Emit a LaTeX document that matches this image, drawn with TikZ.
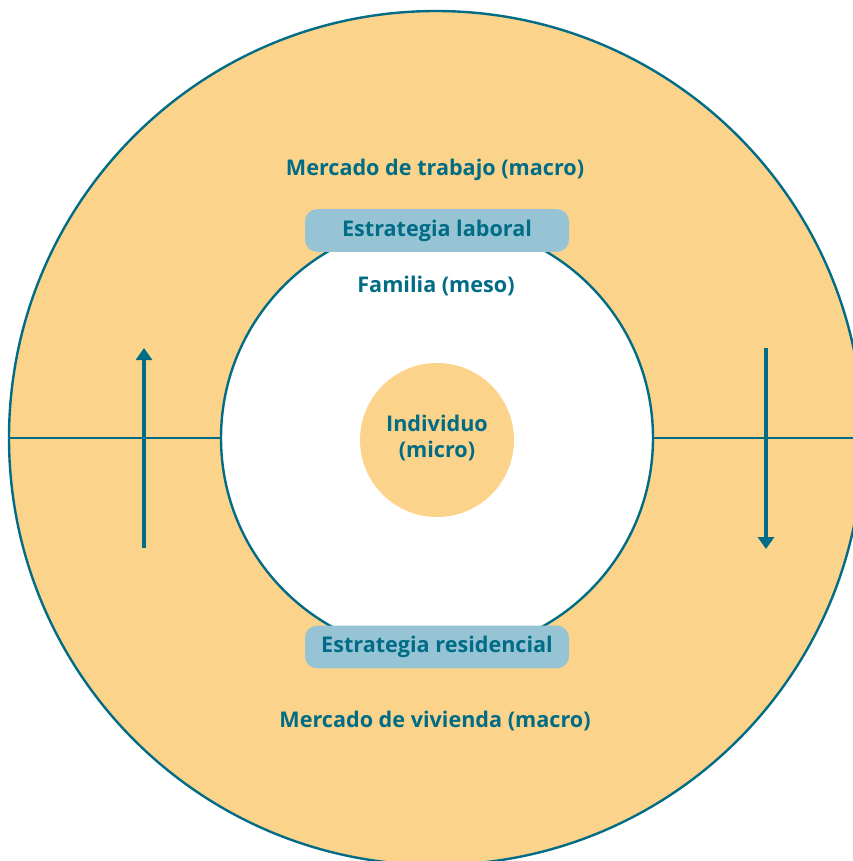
\documentclass[tikz,border=0pt]{standalone}
\usepackage{fontspec}
\setmainfont{Open Sans}
\usetikzlibrary{arrows.meta,positioning}
\definecolor{darkteal}{RGB}{0,108,133}
\definecolor{softorange}{RGB}{252,211,138}
\definecolor{softblue}{RGB}{150,196,213}

\begin{document}
\begin{tikzpicture}[x=0.75pt,y=-0.75pt,>={Triangle[width=12pt,length=9pt]}]
\tikzstyle{ring}=[circle,draw=darkteal,line width=1.8pt,inner sep=0pt]
\tikzstyle{caption}=[text=darkteal,font=\bfseries\fontsize{16.2}{20}\selectfont,align=center]
\tikzstyle{strategy}=[caption,fill=softblue,rounded corners=9pt,minimum width=198pt,minimum height=32pt]
\tikzstyle{flow}=[draw=darkteal,line width=3pt,->]
\useasboundingbox (0,0) rectangle (853,861);
\begin{scope}
\clip (0,0) rectangle (853,861);
\node[ring,fill=softorange,minimum size=640.5pt] (macro) at (436,438) {};
\node[ring,fill=white,minimum size=324pt] (meso) at (437,438) {};
\node[circle,fill=softorange,minimum size=115.5pt,inner sep=0pt] (micro) at (437,440) {};
\draw[darkteal,line width=1.7pt] (macro.west) -- (meso.west);
\draw[darkteal,line width=1.7pt] (meso.east) -- (macro.east);
\end{scope}
\node[caption] at (437,438) {Individuo\\(micro)};
\node[caption] (meso label) at (436,286) {Familia (meso)};
\node[caption] (work market) at (435,170) {Mercado de trabajo (macro)};
\node[caption] (housing market) at (435,721) {Mercado de vivienda (macro)};
\node[strategy] (work) at (437,230.5) {Estrategia laboral};
\node[strategy] (housing) at (437,647) {Estrategia residencial};
% movimientos entre mercados
\coordinate (up start) at (144,548);
\coordinate (up end) at (144,348);
\coordinate (down start) at (766,348);
\coordinate (down end) at (766,549);
\draw[flow] (up start) -- (up end);
\draw[flow] (down start) -- (down end);
\end{tikzpicture}
\end{document}
